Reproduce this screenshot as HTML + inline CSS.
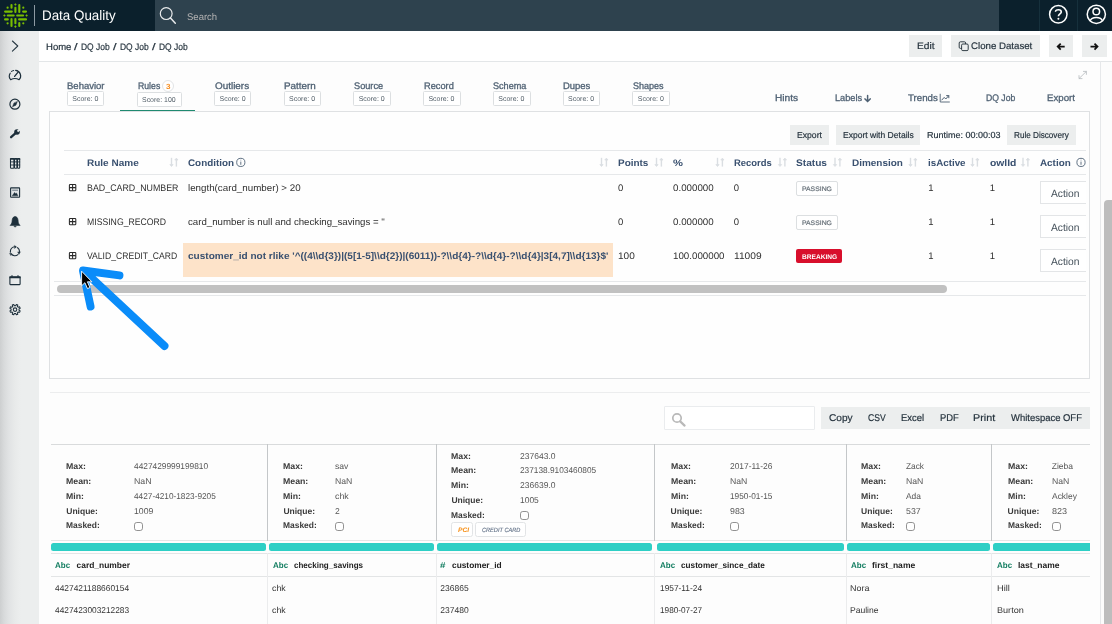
<!DOCTYPE html>
<html><head><meta charset="utf-8">
<style>
*{box-sizing:border-box;margin:0;padding:0}
html,body{width:1112px;height:624px;overflow:hidden;background:#fdfdfd;font-family:"Liberation Sans",sans-serif;color:#333}
div,svg{position:absolute}
.t{white-space:nowrap;transform-origin:0 50%}
#tx{left:0;top:0;width:1112px;height:624px;will-change:transform;text-rendering:geometricPrecision}
.b{background:#eceeee}
.ln{height:1px;background:#e6e8ea}
.sc{border:1px solid #dcdfe1;background:#fff;border-radius:1.5px;height:15px}
.cb{width:9px;height:9px;border:1px solid #929292;border-radius:2.8px;background:#fff;margin:-0.5px 0 0 -0.4px}
.teal{top:542.9px;height:8.1px;background:#2ecfc5;border-radius:2.5px}
.vs{width:1px;background:#c4c7c9;top:444px;height:97px}
.vs2{width:1px;background:#ebeced;top:553px;height:71px}
.act{left:1040px;width:46px;height:23px;border:1px solid #e3e5e7;border-right:none;background:#fff}
.pass{left:796px;width:42px;height:14.5px;border:1px solid #dcdfe1;border-radius:2px;background:#fff}
</style></head><body>
<!-- top bar -->
<div style="left:0;top:0;width:1112px;height:31px;background:#2e424e"></div>
<div style="left:0;top:0;width:155px;height:31px;background:#0b202c"></div>
<div style="left:999px;top:0;width:113px;height:31px;background:#0b202c"></div>
<div style="left:1039px;top:0;width:1px;height:31px;background:#16303c"></div>
<div style="left:1077px;top:0;width:1px;height:31px;background:#16303c"></div>
<div style="left:33.8px;top:5px;width:1.2px;height:21px;background:#8d9aa3"></div>
<!-- logo -->
<svg style="left:0;top:0" width="32" height="31" viewBox="0 0 32 31"><g stroke="#79be00" stroke-width="2.1" stroke-linecap="round" fill="none">
<path d="M11.5 5.1V7.8M15.4 7.8V11.9M19.3 5.1V11.9"/>
<path d="M5.1 11.6H11.8M7.8 15.5H13.7M5.1 19.4H7.8"/>
<path d="M23.1 11.6H26M17.2 15.5H23.1M19.1 19.4H26"/>
<path d="M11.5 19.1V26M15.4 19.1V23.2M19.3 23.1V26"/>
</g><g fill="#79be00"><path d="M15.4 3.2L16.7 4.5L15.4 5.8L14.1 4.5ZM15.4 25.3L16.7 26.6L15.4 27.9L14.1 26.6ZM4.4 14.2L5.7 15.5L4.4 16.8L3.1 15.5ZM26.6 14.2L27.9 15.5L26.6 16.8L25.3 15.5Z"/>
<circle cx="7.6" cy="7.7" r="1.1"/><circle cx="23.3" cy="7.7" r="1.1"/><circle cx="7.6" cy="23.3" r="1.1"/><circle cx="23.3" cy="23.3" r="1.1"/></g></svg>
<!-- search icon -->
<svg style="left:155px;top:0" width="30" height="31" viewBox="155 0 30 31"><circle cx="166.2" cy="13.6" r="5.9" fill="none" stroke="#e9ebec" stroke-width="1.2"/><path d="M170.5 18L175.3 23.2" stroke="#e9ebec" stroke-width="1.5" stroke-linecap="round"/></svg>
<!-- help / user -->
<svg style="left:1045px;top:0" width="67" height="31" viewBox="1045 0 67 31" fill="none" stroke="#fff" stroke-width="1.5">
<circle cx="1058.3" cy="14.3" r="8.7"/>
<path d="M1055.5 11.7C1055.5 9 1061.3 9 1061.3 11.9C1061.3 13.9 1058.4 13.9 1058.4 16.3" stroke-width="1.6"/><circle cx="1058.4" cy="18.8" r="1" fill="#fff" stroke="none"/>
<circle cx="1096.3" cy="14.3" r="9.1"/><circle cx="1096.3" cy="11.5" r="3.3"/>
<path d="M1090.2 20.8C1091.6 16.3 1101 16.3 1102.4 20.8"/></svg>
<!-- sidebar -->
<div style="left:0;top:31px;width:39px;height:593px;background:linear-gradient(90deg,#cdcfd0 0,#d8dadb 4px,#e1e3e4 9px,#e7e9e9 14px,#ebeded 19px,#eceeee 22px,#eceeee 100%)"></div>
<svg style="left:0;top:31px" width="39" height="300" viewBox="0 31 39 300" fill="none" stroke="#1d2f3b" stroke-width="1.2" stroke-linecap="round" stroke-linejoin="round">
<path d="M12.4 41L17.8 46L12.4 51.2" stroke-width="1.05" stroke="#263742"/>
<!-- gauge -->
<path d="M10.7 79.7A5.5 5.5 0 0 1 10.2 73.2M11.6 71.4A5.5 5.5 0 0 1 13.6 70.5M15.6 70.4A5.5 5.5 0 0 1 19.1 79.7Q14.9 77.3 10.7 79.7" stroke-width="1.15"/><path d="M14.6 76.4L18.3 71.9" stroke-width="1.3"/>
<!-- compass -->
<circle cx="14.9" cy="104.2" r="5"/><path d="M17.3 101.7L15.9 105.2L12.5 106.7L13.9 103.2Z" fill="#1d2f3b" stroke-width="0.5"/>
<!-- wrench -->
<path d="M11.1 137.2L15.6 133.2" stroke-width="2.3"/><circle cx="17" cy="132" r="2.8" fill="#1d2f3b" stroke="none"/><path d="M17.5 131.4L20.6 128.8" stroke="#eceeee" stroke-width="1.9" stroke-linecap="butt"/>
<!-- grid -->
<g stroke-width="1.05"><rect x="10.5" y="158.5" width="3.4" height="9.8" rx="0.7"/><rect x="14.5" y="158.5" width="2.4" height="9.8" rx="0.7"/><rect x="17.5" y="158.5" width="2.2" height="9.8" rx="0.7"/><path d="M10.5 161.9H19.7M10.5 165H19.7" stroke-width="0.9"/><path d="M10.5 159H19.7" stroke-width="1.4"/></g>
<!-- image -->
<rect x="10.6" y="187.9" width="9" height="9.4" rx="0.5" stroke-width="1.1" fill="#dfe3e5"/><path d="M12.2 195.8L14.6 192.4L15.7 193.8L16.5 193L17.9 195.8Z" fill="#1d2f3b" stroke-width="0.4"/><path d="M12.6 190.2H17.6" stroke-width="0.9" stroke="#5a6a75"/>
<!-- bell -->
<path d="M10.4 225.2C12.1 223.8 12 221.6 12.2 220C12.5 217.6 13.8 216.6 15.1 216.6C16.4 216.6 17.7 217.6 18 220C18.2 221.6 18.1 223.8 19.8 225.2Z" fill="#1d2f3b" stroke-width="0.7"/><path d="M14 226.3A1.15 1.15 0 0 0 16.2 226.3Z" fill="#1d2f3b" stroke-width="0.5"/>
<!-- refresh -->
<path d="M10.5 252.2A4.5 4.5 0 0 1 15.4 246.8M17.6 247.7A4.5 4.5 0 0 1 19.2 252.6M17.9 254.6A4.5 4.5 0 0 1 11.3 253.9" stroke-width="1.1"/><path d="M14.6 245.4L16.6 246.9L14.6 248.4Z" fill="#1d2f3b" stroke-width="0.3"/><path d="M20.4 252L19 254.4L17.6 252.2Z" fill="#1d2f3b" stroke-width="0.3"/><path d="M9.6 253.2L11.5 253.6L11 255.5Z" fill="#1d2f3b" stroke-width="0.3"/>
<!-- calendar -->
<rect x="9.9" y="277" width="10.2" height="7.6" rx="0.5" stroke-width="1.1"/><path d="M9.4 277.3H20.6" stroke-width="1.9" stroke-linecap="butt"/><path d="M12 275.6V276.6M18 275.6V276.6" stroke-width="1.1"/>
<!-- gear -->
<path d="M19.00 310.26L20.19 310.88L19.59 312.33L18.31 311.92L17.37 312.86L17.78 314.14L16.33 314.74L15.71 313.55L14.39 313.55L13.77 314.74L12.32 314.14L12.73 312.86L11.79 311.92L10.51 312.33L9.91 310.88L11.10 310.26L11.10 308.94L9.91 308.32L10.51 306.87L11.79 307.28L12.73 306.34L12.32 305.06L13.77 304.46L14.39 305.65L15.71 305.65L16.33 304.46L17.78 305.06L17.37 306.34L18.31 307.28L19.59 306.87L20.19 308.32L19.00 308.94Z" stroke-width="1.05" stroke-linejoin="round"/><circle cx="15.05" cy="309.6" r="1.75" stroke-width="1.1"/>
</svg>
<!-- breadcrumb bar -->
<div style="left:39px;top:31px;width:1073px;height:30px;background:#fff"></div>
<div class="ln" style="left:39px;top:61px;width:1073px;background:#e3e6e8"></div>
<div class="b" style="left:909px;top:35px;width:33px;height:22px"></div>
<div class="b" style="left:951px;top:35px;width:89px;height:22px"></div>
<div class="b" style="left:1049px;top:35px;width:24px;height:22px"></div>
<div class="b" style="left:1082px;top:35px;width:25px;height:22px"></div>
<svg style="left:955px;top:38px" width="150" height="16" viewBox="955 38 150 16" fill="none" stroke="#1d2a33">
<rect x="959.2" y="41.8" width="6.4" height="6.6" rx="1.2" stroke-width="0.9"/><rect x="961.6" y="44" width="6.6" height="6.6" rx="1.2" stroke-width="0.9" fill="#eceeee"/>
<path d="M1064.7 46.6H1058M1060.7 43.6L1057.7 46.6L1060.7 49.6" stroke-width="1.75" stroke="#111"/>
<path d="M1090.5 46.6H1097.2M1094.5 43.6L1097.5 46.6L1094.5 49.6" stroke-width="1.75" stroke="#111"/>
</svg>
<!-- right edge / scrollbar -->
<div style="left:1100px;top:61px;width:1px;height:563px;background:#e6e8ea"></div>
<div style="left:1101px;top:62px;width:11px;height:562px;background:#fcfcfc"></div>
<div style="left:1104px;top:200px;width:8px;height:430px;background:#bdbdbd;border-radius:4px 0 0 4px"></div>
<!-- tabs -->
<div class="sc" style="left:67px;top:91px;width:37px"></div>
<div class="sc" style="left:137px;top:92px;width:45px"></div>
<div class="sc" style="left:214px;top:91px;width:37px"></div>
<div class="sc" style="left:284px;top:91px;width:37px"></div>
<div class="sc" style="left:353px;top:91px;width:38px"></div>
<div class="sc" style="left:423px;top:91px;width:38px"></div>
<div class="sc" style="left:493px;top:91px;width:38px"></div>
<div class="sc" style="left:563px;top:91px;width:37px"></div>
<div class="sc" style="left:632px;top:91px;width:38px"></div>
<div style="left:162.4px;top:79.9px;width:12px;height:12px;border:1px solid #e2e4e6;border-radius:6px;background:#fff"></div>
<div style="left:120px;top:110px;width:75px;height:1.5px;background:#1f8a70"></div>
<svg style="left:860px;top:68px" width="240" height="40" viewBox="860 68 240 40" fill="none" stroke="#4f6173" stroke-linecap="round" stroke-linejoin="round">
<path d="M867.6 95.4V101.4M865 98.9L867.6 101.6L870.2 98.9" stroke-width="1.5"/>
<path d="M940.2 94.2V102H949.4" stroke-width="0.9"/><path d="M941.8 100L944.2 97.4L945.8 99L948.6 95.8M946.6 95.6H948.8V97.8" stroke-width="1"/>
<path d="M1079.2 78.4L1086.2 71.6M1079 75.6V78.6H1082M1083.4 71.4H1086.4V74.4" stroke="#b4b9bd" stroke-width="0.8"/>
</svg>
<!-- panel -->
<div style="left:49px;top:111px;width:1041px;height:268px;background:#fefefe;border:1px solid #dfe1e3"></div>
<div class="b" style="left:790px;top:125px;width:39px;height:20px"></div>
<div class="b" style="left:836px;top:125px;width:84px;height:20px"></div>
<div class="b" style="left:1007px;top:125px;width:69px;height:20px"></div>
<div class="ln" style="left:64px;top:150px;width:1022px"></div>
<div class="ln" style="left:64px;top:174px;width:1022px"></div>
<div class="ln" style="left:54px;top:281px;width:1032px"></div>
<div class="ln" style="left:54px;top:295px;width:1032px"></div>
<div style="left:183px;top:243px;width:430px;height:33.5px;background:#fde3c9"></div>
<div style="left:57px;top:285px;width:890px;height:8px;background:#c1c1c1;border-radius:4px"></div>
<div class="pass" style="top:181.2px"></div><div class="pass" style="top:215.2px"></div>
<div style="left:796px;top:249.2px;width:46px;height:13.7px;background:#d80f2c;border-radius:2px"></div>
<div class="act" style="top:180.9px"></div><div class="act" style="top:214.9px"></div><div class="act" style="top:248.9px"></div>
<!-- table icons -->
<svg style="left:60px;top:150px" width="1030" height="120" viewBox="60 150 1030 120" fill="none">
<g stroke="#2a2a2a" stroke-width="1.05"><rect x="69.4" y="184.4" width="6.4" height="6.4" rx="0.8"/><path d="M72.6 184.4V190.8M69.4 187.6H75.8"/></g>
<g stroke="#2a2a2a" stroke-width="1.05" transform="translate(0 34)"><rect x="69.4" y="184.4" width="6.4" height="6.4" rx="0.8"/><path d="M72.6 184.4V190.8M69.4 187.6H75.8"/></g><g stroke="#2a2a2a" stroke-width="1.05" transform="translate(0 68)"><rect x="69.4" y="184.4" width="6.4" height="6.4" rx="0.8"/><path d="M72.6 184.4V190.8M69.4 187.6H75.8"/></g>
<g stroke="#dadee2" stroke-width="1.4" fill="#dadee2" stroke-linejoin="round"><path d="M171.5 157.8V165" /><path d="M169.9 164.6H173.1L171.5 166.5Z" stroke-width="0.8"/><path d="M176.4 166.6V159.6"/><path d="M174.8 160H178L176.4 158.1Z" stroke-width="0.8"/></g>
<g stroke="#dadee2" stroke-width="1.4" fill="#dadee2" stroke-linejoin="round" transform="translate(430 0)"><path d="M171.5 157.8V165" /><path d="M169.9 164.6H173.1L171.5 166.5Z" stroke-width="0.8"/><path d="M176.4 166.6V159.6"/><path d="M174.8 160H178L176.4 158.1Z" stroke-width="0.8"/></g><g stroke="#dadee2" stroke-width="1.4" fill="#dadee2" stroke-linejoin="round" transform="translate(485 0)"><path d="M171.5 157.8V165" /><path d="M169.9 164.6H173.1L171.5 166.5Z" stroke-width="0.8"/><path d="M176.4 166.6V159.6"/><path d="M174.8 160H178L176.4 158.1Z" stroke-width="0.8"/></g><g stroke="#dadee2" stroke-width="1.4" fill="#dadee2" stroke-linejoin="round" transform="translate(546 0)"><path d="M171.5 157.8V165" /><path d="M169.9 164.6H173.1L171.5 166.5Z" stroke-width="0.8"/><path d="M176.4 166.6V159.6"/><path d="M174.8 160H178L176.4 158.1Z" stroke-width="0.8"/></g><g stroke="#dadee2" stroke-width="1.4" fill="#dadee2" stroke-linejoin="round" transform="translate(608.5 0)"><path d="M171.5 157.8V165" /><path d="M169.9 164.6H173.1L171.5 166.5Z" stroke-width="0.8"/><path d="M176.4 166.6V159.6"/><path d="M174.8 160H178L176.4 158.1Z" stroke-width="0.8"/></g><g stroke="#dadee2" stroke-width="1.4" fill="#dadee2" stroke-linejoin="round" transform="translate(663.5 0)"><path d="M171.5 157.8V165" /><path d="M169.9 164.6H173.1L171.5 166.5Z" stroke-width="0.8"/><path d="M176.4 166.6V159.6"/><path d="M174.8 160H178L176.4 158.1Z" stroke-width="0.8"/></g><g stroke="#dadee2" stroke-width="1.4" fill="#dadee2" stroke-linejoin="round" transform="translate(739 0)"><path d="M171.5 157.8V165" /><path d="M169.9 164.6H173.1L171.5 166.5Z" stroke-width="0.8"/><path d="M176.4 166.6V159.6"/><path d="M174.8 160H178L176.4 158.1Z" stroke-width="0.8"/></g><g stroke="#dadee2" stroke-width="1.4" fill="#dadee2" stroke-linejoin="round" transform="translate(801 0)"><path d="M171.5 157.8V165" /><path d="M169.9 164.6H173.1L171.5 166.5Z" stroke-width="0.8"/><path d="M176.4 166.6V159.6"/><path d="M174.8 160H178L176.4 158.1Z" stroke-width="0.8"/></g><g stroke="#dadee2" stroke-width="1.4" fill="#dadee2" stroke-linejoin="round" transform="translate(851.5 0)"><path d="M171.5 157.8V165" /><path d="M169.9 164.6H173.1L171.5 166.5Z" stroke-width="0.8"/><path d="M176.4 166.6V159.6"/><path d="M174.8 160H178L176.4 158.1Z" stroke-width="0.8"/></g>
<g stroke="#3a4f66" stroke-width="0.8"><circle cx="240.8" cy="162.4" r="4.1"/><path d="M240.8 161.6V164.8M240.8 159.8V160.4"/><circle cx="1081" cy="162.4" r="4.1"/><path d="M1081 161.6V164.8M1081 159.8V160.4"/></g>
</svg>
<!-- arrow annotation -->
<svg style="left:60px;top:255px" width="130" height="110" viewBox="60 255 130 110" fill="none">
<path d="M84 271L164.5 346M83 270.5L119.5 275.4M83 271L90.6 306.6" stroke="#0a8cf9" stroke-width="7.9" stroke-linecap="round"/>
<path d="M81.6 271.2V285.8L84.9 282.7L87.5 288.6L89.9 287.5L87.4 281.8H91.9Z" fill="#000" stroke="#fff" stroke-width="0.9" stroke-linejoin="round"/>
</svg>
<!-- lower section -->
<div class="ln" style="left:50px;top:392px;width:1040px;background:#ecedee"></div>
<div style="left:664px;top:406px;width:151px;height:24px;background:#fff;border:1px solid #eaecee;border-radius:1px"></div>
<svg style="left:668px;top:410px" width="22" height="20" viewBox="668 410 22 20" fill="none" stroke="#b9b9b9"><circle cx="677" cy="418" r="4.2" stroke-width="1.7"/><path d="M680.2 421.4L684.6 425.6" stroke-width="2.2" stroke-linecap="round"/></svg>
<div class="b" style="left:821px;top:407px;width:269px;height:22px"></div>
<div class="ln" style="left:51px;top:444px;width:1039px;background:#d9dbdc"></div>
<div class="ln" style="left:51px;top:540.2px;width:1039px;background:#e3e5e6"></div>
<div class="ln" style="left:51px;top:553.2px;width:1039px;background:#e3e5e6"></div>
<div class="ln" style="left:51px;top:576px;width:1039px;background:#e3e5e6"></div>
<div class="vs" style="left:267px"></div><div class="vs" style="left:435.5px"></div><div class="vs" style="left:654px"></div><div class="vs" style="left:845.5px"></div><div class="vs" style="left:991px"></div>
<div class="vs2" style="left:267px"></div><div class="vs2" style="left:435.5px"></div><div class="vs2" style="left:654px"></div><div class="vs2" style="left:845.5px"></div><div class="vs2" style="left:991px"></div>
<div class="teal" style="left:51px;width:214.5px"></div><div class="teal" style="left:269px;width:164.5px"></div><div class="teal" style="left:437px;width:215px"></div><div class="teal" style="left:656.5px;width:187px"></div><div class="teal" style="left:847px;width:142.5px"></div><div class="teal" style="left:993px;width:97px;border-radius:2.5px 0 0 2.5px"></div>
<div class="cb" style="left:134.6px;top:522.5px"></div><div class="cb" style="left:335.4px;top:522.5px"></div><div class="cb" style="left:520.2px;top:511.5px"></div><div class="cb" style="left:730.3px;top:522.5px"></div><div class="cb" style="left:906.1px;top:522.5px"></div><div class="cb" style="left:1052.2px;top:522.5px"></div>
<div style="left:451.4px;top:522.3px;width:22.1px;height:14.4px;border:1px solid #e2e4e6;border-radius:2.5px;background:#fff"></div>
<div style="left:475.3px;top:522.3px;width:50.3px;height:14.4px;border:1px solid #e2e4e6;border-radius:2.5px;background:#fff"></div>
<div id="tx">
<div class="t" style="left:41.93px;top:7.00px;font-size:13.86px;line-height:16px;color:#fff;transform:scaleX(0.966);">Data Quality</div>
<div class="t" style="left:187.32px;top:12.00px;font-size:9.68px;line-height:11px;color:#b4b3b3;transform:scaleX(0.983);">Search</div>
<div class="t" style="left:46.03px;top:42.00px;font-size:9.5px;line-height:11px;color:#1f2d38;-webkit-text-stroke:0.18px #1f2d38;">Home</div>
<div class="t" style="left:74.16px;top:42.00px;font-size:9.5px;line-height:11px;color:#1f2d38;transform:scaleX(1.350);-webkit-text-stroke:0.18px #1f2d38;">/</div>
<div class="t" style="left:81.08px;top:42.00px;font-size:9.5px;line-height:11px;color:#1f2d38;transform:scaleX(0.891);-webkit-text-stroke:0.18px #1f2d38;">DQ Job</div>
<div class="t" style="left:112.66px;top:42.00px;font-size:9.5px;line-height:11px;color:#1f2d38;transform:scaleX(1.350);-webkit-text-stroke:0.18px #1f2d38;">/</div>
<div class="t" style="left:120.08px;top:42.00px;font-size:9.5px;line-height:11px;color:#1f2d38;transform:scaleX(0.891);-webkit-text-stroke:0.18px #1f2d38;">DQ Job</div>
<div class="t" style="left:151.66px;top:42.00px;font-size:9.5px;line-height:11px;color:#1f2d38;transform:scaleX(1.350);-webkit-text-stroke:0.18px #1f2d38;">/</div>
<div class="t" style="left:159.08px;top:42.00px;font-size:9.5px;line-height:11px;color:#1f2d38;transform:scaleX(0.891);-webkit-text-stroke:0.18px #1f2d38;">DQ Job</div>
<div class="t" style="left:916.99px;top:41.00px;font-size:9.5px;line-height:11px;color:#1f2d38;transform:scaleX(1.076);-webkit-text-stroke:0.18px #1f2d38;">Edit</div>
<div class="t" style="left:971.02px;top:41.00px;font-size:9.5px;line-height:11px;color:#1f2d38;transform:scaleX(1.018);-webkit-text-stroke:0.18px #1f2d38;">Clone Dataset</div>
<div class="t" style="left:67.02px;top:81.00px;font-size:9.5px;line-height:11px;color:#4f6173;-webkit-text-stroke:0.3px #4f6173;">Behavior</div>
<div class="t" style="left:137.67px;top:81.00px;font-size:9.5px;line-height:11px;color:#4f6173;transform:scaleX(0.915);-webkit-text-stroke:0.3px #4f6173;">Rules</div>
<div class="t" style="left:214.61px;top:81.00px;font-size:9.5px;line-height:11px;color:#4f6173;transform:scaleX(1.041);-webkit-text-stroke:0.3px #4f6173;">Outliers</div>
<div class="t" style="left:284.11px;top:81.00px;font-size:9.5px;line-height:11px;color:#4f6173;transform:scaleX(1.037);-webkit-text-stroke:0.3px #4f6173;">Pattern</div>
<div class="t" style="left:353.74px;top:81.00px;font-size:9.5px;line-height:11px;color:#4f6173;transform:scaleX(0.967);-webkit-text-stroke:0.3px #4f6173;">Source</div>
<div class="t" style="left:423.54px;top:81.00px;font-size:9.5px;line-height:11px;color:#4f6173;transform:scaleX(0.973);-webkit-text-stroke:0.3px #4f6173;">Record</div>
<div class="t" style="left:493.34px;top:81.00px;font-size:9.5px;line-height:11px;color:#4f6173;transform:scaleX(0.958);-webkit-text-stroke:0.3px #4f6173;">Schema</div>
<div class="t" style="left:563.13px;top:81.00px;font-size:9.5px;line-height:11px;color:#4f6173;transform:scaleX(0.995);-webkit-text-stroke:0.3px #4f6173;">Dupes</div>
<div class="t" style="left:632.85px;top:81.00px;font-size:9.5px;line-height:11px;color:#4f6173;transform:scaleX(0.949);-webkit-text-stroke:0.3px #4f6173;">Shapes</div>
<div class="t" style="left:775.49px;top:93.00px;font-size:9.5px;line-height:11px;color:#4f6173;transform:scaleX(1.067);-webkit-text-stroke:0.3px #4f6173;">Hints</div>
<div class="t" style="left:834.54px;top:93.00px;font-size:9.5px;line-height:11px;color:#4f6173;transform:scaleX(0.968);-webkit-text-stroke:0.3px #4f6173;">Labels</div>
<div class="t" style="left:907.72px;top:93.00px;font-size:9.5px;line-height:11px;color:#4f6173;transform:scaleX(1.019);-webkit-text-stroke:0.3px #4f6173;">Trends</div>
<div class="t" style="left:985.77px;top:93.00px;font-size:9.5px;line-height:11px;color:#4f6173;transform:scaleX(0.907);-webkit-text-stroke:0.3px #4f6173;">DQ Job</div>
<div class="t" style="left:1047.22px;top:93.00px;font-size:9.5px;line-height:11px;color:#4f6173;transform:scaleX(1.018);-webkit-text-stroke:0.3px #4f6173;">Export</div>
<div class="t" style="left:72.25px;top:96.00px;font-size:7.0px;line-height:7px;color:#4f5b65;">Score: 0</div>
<div class="t" style="left:219.55px;top:96.00px;font-size:7.0px;line-height:7px;color:#4f5b65;">Score: 0</div>
<div class="t" style="left:289.05px;top:96.00px;font-size:7.0px;line-height:7px;color:#4f5b65;">Score: 0</div>
<div class="t" style="left:358.65px;top:96.00px;font-size:7.0px;line-height:7px;color:#4f5b65;">Score: 0</div>
<div class="t" style="left:428.45px;top:96.00px;font-size:7.0px;line-height:7px;color:#4f5b65;">Score: 0</div>
<div class="t" style="left:498.25px;top:96.00px;font-size:7.0px;line-height:7px;color:#4f5b65;">Score: 0</div>
<div class="t" style="left:568.05px;top:96.00px;font-size:7.0px;line-height:7px;color:#4f5b65;">Score: 0</div>
<div class="t" style="left:637.75px;top:96.00px;font-size:7.0px;line-height:7px;color:#4f5b65;">Score: 0</div>
<div class="t" style="left:142.45px;top:97.00px;font-size:7.0px;line-height:7px;color:#4f5b65;transform:scaleX(0.993);">Score: 100</div>
<div class="t" style="left:166.30px;top:82.00px;font-size:7.5px;line-height:9px;color:#f68d1f;font-weight:bold;transform:scaleX(1.070);">3</div>
<div class="t" style="left:797.37px;top:130.00px;font-size:8.77px;line-height:10px;color:#1f2d38;transform:scaleX(0.984);-webkit-text-stroke:0.18px #1f2d38;">Export</div>
<div class="t" style="left:842.87px;top:130.00px;font-size:8.77px;line-height:10px;color:#1f2d38;transform:scaleX(0.974);-webkit-text-stroke:0.18px #1f2d38;">Export with Details</div>
<div class="t" style="left:927.15px;top:130.00px;font-size:8.77px;line-height:10px;color:#1f2d38;transform:scaleX(1.026);-webkit-text-stroke:0.18px #1f2d38;">Runtime: 00:00:03</div>
<div class="t" style="left:1014.09px;top:130.00px;font-size:8.77px;line-height:10px;color:#1f2d38;transform:scaleX(0.929);-webkit-text-stroke:0.18px #1f2d38;">Rule Discovery</div>
<div class="t" style="left:86.85px;top:158.00px;font-size:9.5px;line-height:11px;color:#3a5170;font-weight:bold;transform:scaleX(1.053);">Rule Name</div>
<div class="t" style="left:188.05px;top:158.00px;font-size:9.5px;line-height:11px;color:#3a5170;font-weight:bold;transform:scaleX(1.037);">Condition</div>
<div class="t" style="left:618.15px;top:158.00px;font-size:9.5px;line-height:11px;color:#3a5170;font-weight:bold;transform:scaleX(1.047);">Points</div>
<div class="t" style="left:672.52px;top:158.00px;font-size:9.5px;line-height:11px;color:#3a5170;font-weight:bold;transform:scaleX(1.176);">%</div>
<div class="t" style="left:733.76px;top:158.00px;font-size:9.5px;line-height:11px;color:#3a5170;font-weight:bold;transform:scaleX(0.993);">Records</div>
<div class="t" style="left:795.95px;top:158.00px;font-size:9.5px;line-height:11px;color:#3a5170;font-weight:bold;transform:scaleX(1.068);">Status</div>
<div class="t" style="left:852.35px;top:158.00px;font-size:9.5px;line-height:11px;color:#3a5170;font-weight:bold;transform:scaleX(1.048);">Dimension</div>
<div class="t" style="left:927.56px;top:158.00px;font-size:9.5px;line-height:11px;color:#3a5170;font-weight:bold;transform:scaleX(1.031);">isActive</div>
<div class="t" style="left:989.54px;top:158.00px;font-size:9.5px;line-height:11px;color:#3a5170;font-weight:bold;transform:scaleX(1.089);">owlId</div>
<div class="t" style="left:1040.25px;top:158.00px;font-size:9.5px;line-height:11px;color:#3a5170;font-weight:bold;transform:scaleX(1.038);">Action</div>
<div class="t" style="left:86.86px;top:183.00px;font-size:9.5px;line-height:11px;color:#303030;transform:scaleX(0.932);">BAD_CARD_NUMBER</div>
<div class="t" style="left:86.87px;top:217.00px;font-size:9.5px;line-height:11px;color:#303030;transform:scaleX(0.913);">MISSING_RECORD</div>
<div class="t" style="left:86.87px;top:251.00px;font-size:9.5px;line-height:11px;color:#303030;transform:scaleX(0.905);">VALID_CREDIT_CARD</div>
<div class="t" style="left:188.01px;top:183.00px;font-size:9.5px;line-height:11px;color:#303030;transform:scaleX(1.028);">length(card_number) &gt; 20</div>
<div class="t" style="left:188.02px;top:217.00px;font-size:9.5px;line-height:11px;color:#303030;transform:scaleX(1.018);">card_number is null and checking_savings = ''</div>
<div class="t" style="left:188.25px;top:251.00px;font-size:9.5px;line-height:11px;color:#3a5170;font-weight:bold;transform:scaleX(1.056);">customer_id not rlike '^((4\\d{3})|(5[1-5]\\d{2})|(6011))-?\\d{4}-?\\d{4}-?\\d{4}|3[4,7]\\d{13}$'</div>
<div class="t" style="left:618.12px;top:183.00px;font-size:9.5px;line-height:11px;color:#303030;">0</div>
<div class="t" style="left:618.12px;top:217.00px;font-size:9.5px;line-height:11px;color:#303030;">0</div>
<div class="t" style="left:618.10px;top:251.00px;font-size:9.5px;line-height:11px;color:#303030;transform:scaleX(1.060);">100</div>
<div class="t" style="left:672.51px;top:183.00px;font-size:9.5px;line-height:11px;color:#303030;transform:scaleX(1.026);">0.000000</div>
<div class="t" style="left:672.51px;top:217.00px;font-size:9.5px;line-height:11px;color:#303030;transform:scaleX(1.026);">0.000000</div>
<div class="t" style="left:672.51px;top:251.00px;font-size:9.5px;line-height:11px;color:#303030;transform:scaleX(1.027);">100.000000</div>
<div class="t" style="left:733.73px;top:183.00px;font-size:9.5px;line-height:11px;color:#303030;">0</div>
<div class="t" style="left:733.73px;top:217.00px;font-size:9.5px;line-height:11px;color:#303030;">0</div>
<div class="t" style="left:733.69px;top:251.00px;font-size:9.5px;line-height:11px;color:#303030;transform:scaleX(1.074);">11009</div>
<div class="t" style="left:928.32px;top:183.00px;font-size:9.5px;line-height:11px;color:#303030;">1</div>
<div class="t" style="left:989.82px;top:183.00px;font-size:9.5px;line-height:11px;color:#303030;">1</div>
<div class="t" style="left:1051.49px;top:189.00px;font-size:10.46px;line-height:11px;color:#46525c;transform:scaleX(0.982);">Action</div>
<div class="t" style="left:928.32px;top:217.00px;font-size:9.5px;line-height:11px;color:#303030;">1</div>
<div class="t" style="left:989.82px;top:217.00px;font-size:9.5px;line-height:11px;color:#303030;">1</div>
<div class="t" style="left:1051.49px;top:223.00px;font-size:10.46px;line-height:11px;color:#46525c;transform:scaleX(0.982);">Action</div>
<div class="t" style="left:928.32px;top:251.00px;font-size:9.5px;line-height:11px;color:#303030;">1</div>
<div class="t" style="left:989.82px;top:251.00px;font-size:9.5px;line-height:11px;color:#303030;">1</div>
<div class="t" style="left:1051.49px;top:257.00px;font-size:10.46px;line-height:11px;color:#46525c;transform:scaleX(0.982);">Action</div>
<div class="t" style="left:802.16px;top:186.00px;font-size:6.5px;line-height:7px;color:#68727a;transform:scaleX(1.053);-webkit-text-stroke:0.2px #68727a;">PASSING</div>
<div class="t" style="left:802.16px;top:220.00px;font-size:6.5px;line-height:7px;color:#68727a;transform:scaleX(1.053);-webkit-text-stroke:0.2px #68727a;">PASSING</div>
<div class="t" style="left:801.73px;top:254.00px;font-size:6.69px;line-height:7px;color:#fff;font-weight:bold;transform:scaleX(0.987);">BREAKING</div>
<div class="t" style="left:828.89px;top:413.00px;font-size:9.81px;line-height:11px;color:#1f2d38;transform:scaleX(1.032);-webkit-text-stroke:0.18px #1f2d38;">Copy</div>
<div class="t" style="left:868.17px;top:413.00px;font-size:9.81px;line-height:11px;color:#1f2d38;transform:scaleX(0.875);-webkit-text-stroke:0.18px #1f2d38;">CSV</div>
<div class="t" style="left:900.83px;top:413.00px;font-size:9.81px;line-height:11px;color:#1f2d38;transform:scaleX(0.965);-webkit-text-stroke:0.18px #1f2d38;">Excel</div>
<div class="t" style="left:939.73px;top:413.00px;font-size:9.81px;line-height:11px;color:#1f2d38;transform:scaleX(0.960);-webkit-text-stroke:0.18px #1f2d38;">PDF</div>
<div class="t" style="left:973.46px;top:413.00px;font-size:9.81px;line-height:11px;color:#1f2d38;transform:scaleX(1.101);-webkit-text-stroke:0.18px #1f2d38;">Print</div>
<div class="t" style="left:1011.33px;top:413.00px;font-size:9.81px;line-height:11px;color:#1f2d38;transform:scaleX(0.965);-webkit-text-stroke:0.18px #1f2d38;">Whitespace OFF</div>
<div class="t" style="left:66.28px;top:461.00px;font-size:8.5px;line-height:10px;color:#3a3a3a;font-weight:bold;transform:scaleX(1.030);">Max:</div>
<div class="t" style="left:66.28px;top:476.00px;font-size:8.5px;line-height:10px;color:#3a3a3a;font-weight:bold;transform:scaleX(1.028);">Mean:</div>
<div class="t" style="left:66.28px;top:491.00px;font-size:8.5px;line-height:10px;color:#3a3a3a;font-weight:bold;transform:scaleX(1.021);">Min:</div>
<div class="t" style="left:66.29px;top:506.00px;font-size:8.5px;line-height:10px;color:#3a3a3a;font-weight:bold;">Unique:</div>
<div class="t" style="left:66.29px;top:520.00px;font-size:8.5px;line-height:10px;color:#3a3a3a;font-weight:bold;transform:scaleX(0.991);">Masked:</div>
<div class="t" style="left:134.18px;top:461.00px;font-size:8.5px;line-height:10px;color:#555;transform:scaleX(0.980);">4427429999199810</div>
<div class="t" style="left:134.16px;top:476.00px;font-size:8.5px;line-height:10px;color:#555;transform:scaleX(1.032);">NaN</div>
<div class="t" style="left:134.19px;top:491.00px;font-size:8.5px;line-height:10px;color:#555;transform:scaleX(0.972);">4427-4210-1823-9205</div>
<div class="t" style="left:134.17px;top:506.00px;font-size:8.5px;line-height:10px;color:#555;transform:scaleX(1.022);">1009</div>
<div class="t" style="left:283.38px;top:461.00px;font-size:8.5px;line-height:10px;color:#3a3a3a;font-weight:bold;transform:scaleX(1.030);">Max:</div>
<div class="t" style="left:283.38px;top:476.00px;font-size:8.5px;line-height:10px;color:#3a3a3a;font-weight:bold;transform:scaleX(1.028);">Mean:</div>
<div class="t" style="left:283.38px;top:491.00px;font-size:8.5px;line-height:10px;color:#3a3a3a;font-weight:bold;transform:scaleX(1.021);">Min:</div>
<div class="t" style="left:283.39px;top:506.00px;font-size:8.5px;line-height:10px;color:#3a3a3a;font-weight:bold;">Unique:</div>
<div class="t" style="left:283.39px;top:520.00px;font-size:8.5px;line-height:10px;color:#3a3a3a;font-weight:bold;transform:scaleX(0.991);">Masked:</div>
<div class="t" style="left:334.97px;top:461.00px;font-size:8.5px;line-height:10px;color:#555;transform:scaleX(1.015);">sav</div>
<div class="t" style="left:334.97px;top:476.00px;font-size:8.5px;line-height:10px;color:#555;transform:scaleX(1.019);">NaN</div>
<div class="t" style="left:334.96px;top:491.00px;font-size:8.5px;line-height:10px;color:#555;transform:scaleX(1.040);">chk</div>
<div class="t" style="left:334.97px;top:506.00px;font-size:8.5px;line-height:10px;color:#555;">2</div>
<div class="t" style="left:451.38px;top:451.00px;font-size:8.5px;line-height:10px;color:#3a3a3a;font-weight:bold;transform:scaleX(1.030);">Max:</div>
<div class="t" style="left:451.38px;top:465.00px;font-size:8.5px;line-height:10px;color:#3a3a3a;font-weight:bold;transform:scaleX(1.028);">Mean:</div>
<div class="t" style="left:451.38px;top:480.00px;font-size:8.5px;line-height:10px;color:#3a3a3a;font-weight:bold;transform:scaleX(1.021);">Min:</div>
<div class="t" style="left:451.39px;top:495.00px;font-size:8.5px;line-height:10px;color:#3a3a3a;font-weight:bold;">Unique:</div>
<div class="t" style="left:451.39px;top:510.00px;font-size:8.5px;line-height:10px;color:#3a3a3a;font-weight:bold;transform:scaleX(0.991);">Masked:</div>
<div class="t" style="left:520.08px;top:451.00px;font-size:8.5px;line-height:10px;color:#555;">237643.0</div>
<div class="t" style="left:520.09px;top:465.00px;font-size:8.5px;line-height:10px;color:#555;transform:scaleX(0.976);">237138.9103460805</div>
<div class="t" style="left:520.08px;top:480.00px;font-size:8.5px;line-height:10px;color:#555;">236639.0</div>
<div class="t" style="left:520.08px;top:495.00px;font-size:8.5px;line-height:10px;color:#555;transform:scaleX(0.994);">1005</div>
<div class="t" style="left:670.58px;top:461.00px;font-size:8.5px;line-height:10px;color:#3a3a3a;font-weight:bold;transform:scaleX(1.030);">Max:</div>
<div class="t" style="left:670.58px;top:476.00px;font-size:8.5px;line-height:10px;color:#3a3a3a;font-weight:bold;transform:scaleX(1.028);">Mean:</div>
<div class="t" style="left:670.58px;top:491.00px;font-size:8.5px;line-height:10px;color:#3a3a3a;font-weight:bold;transform:scaleX(1.021);">Min:</div>
<div class="t" style="left:670.59px;top:506.00px;font-size:8.5px;line-height:10px;color:#3a3a3a;font-weight:bold;">Unique:</div>
<div class="t" style="left:670.59px;top:520.00px;font-size:8.5px;line-height:10px;color:#3a3a3a;font-weight:bold;transform:scaleX(0.991);">Masked:</div>
<div class="t" style="left:729.88px;top:461.00px;font-size:8.5px;line-height:10px;color:#555;transform:scaleX(0.989);">2017-11-26</div>
<div class="t" style="left:729.87px;top:476.00px;font-size:8.5px;line-height:10px;color:#555;transform:scaleX(1.019);">NaN</div>
<div class="t" style="left:729.89px;top:491.00px;font-size:8.5px;line-height:10px;color:#555;transform:scaleX(0.975);">1950-01-15</div>
<div class="t" style="left:729.86px;top:506.00px;font-size:8.5px;line-height:10px;color:#555;transform:scaleX(1.033);">983</div>
<div class="t" style="left:861.08px;top:461.00px;font-size:8.5px;line-height:10px;color:#3a3a3a;font-weight:bold;transform:scaleX(1.030);">Max:</div>
<div class="t" style="left:861.08px;top:476.00px;font-size:8.5px;line-height:10px;color:#3a3a3a;font-weight:bold;transform:scaleX(1.028);">Mean:</div>
<div class="t" style="left:861.08px;top:491.00px;font-size:8.5px;line-height:10px;color:#3a3a3a;font-weight:bold;transform:scaleX(1.021);">Min:</div>
<div class="t" style="left:861.09px;top:506.00px;font-size:8.5px;line-height:10px;color:#3a3a3a;font-weight:bold;">Unique:</div>
<div class="t" style="left:861.09px;top:520.00px;font-size:8.5px;line-height:10px;color:#3a3a3a;font-weight:bold;transform:scaleX(0.991);">Masked:</div>
<div class="t" style="left:905.69px;top:461.00px;font-size:8.5px;line-height:10px;color:#555;transform:scaleX(0.971);">Zack</div>
<div class="t" style="left:905.67px;top:476.00px;font-size:8.5px;line-height:10px;color:#555;transform:scaleX(1.019);">NaN</div>
<div class="t" style="left:905.68px;top:491.00px;font-size:8.5px;line-height:10px;color:#555;transform:scaleX(0.985);">Ada</div>
<div class="t" style="left:905.66px;top:506.00px;font-size:8.5px;line-height:10px;color:#555;transform:scaleX(1.033);">537</div>
<div class="t" style="left:1007.58px;top:461.00px;font-size:8.5px;line-height:10px;color:#3a3a3a;font-weight:bold;transform:scaleX(1.030);">Max:</div>
<div class="t" style="left:1007.58px;top:476.00px;font-size:8.5px;line-height:10px;color:#3a3a3a;font-weight:bold;transform:scaleX(1.028);">Mean:</div>
<div class="t" style="left:1007.58px;top:491.00px;font-size:8.5px;line-height:10px;color:#3a3a3a;font-weight:bold;transform:scaleX(1.021);">Min:</div>
<div class="t" style="left:1007.59px;top:506.00px;font-size:8.5px;line-height:10px;color:#3a3a3a;font-weight:bold;">Unique:</div>
<div class="t" style="left:1007.59px;top:520.00px;font-size:8.5px;line-height:10px;color:#3a3a3a;font-weight:bold;transform:scaleX(0.991);">Masked:</div>
<div class="t" style="left:1051.78px;top:461.00px;font-size:8.5px;line-height:10px;color:#555;">Zieba</div>
<div class="t" style="left:1051.77px;top:476.00px;font-size:8.5px;line-height:10px;color:#555;transform:scaleX(1.019);">NaN</div>
<div class="t" style="left:1051.78px;top:491.00px;font-size:8.5px;line-height:10px;color:#555;transform:scaleX(0.995);">Ackley</div>
<div class="t" style="left:1051.75px;top:506.00px;font-size:8.5px;line-height:10px;color:#555;transform:scaleX(1.063);">823</div>
<div class="t" style="left:457.53px;top:527.00px;font-size:6.5px;line-height:7px;color:#f7931e;font-weight:bold;font-style:italic;transform:scaleX(1.033);">PCI</div>
<div class="t" style="left:482.02px;top:527.00px;font-size:6.2px;line-height:7px;color:#66758a;font-style:italic;transform:scaleX(0.907);-webkit-text-stroke:0.15px #66758a;">CREDIT CARD</div>
<div class="t" style="left:55.40px;top:560.00px;font-size:8.4px;line-height:10px;color:#127d60;font-weight:bold;transform:scaleX(0.958);">Abc</div>
<div class="t" style="left:76.59px;top:560.00px;font-size:8.44px;line-height:10px;color:#222;font-weight:bold;">card_number</div>
<div class="t" style="left:272.50px;top:560.00px;font-size:8.4px;line-height:10px;color:#127d60;font-weight:bold;transform:scaleX(0.958);">Abc</div>
<div class="t" style="left:294.00px;top:560.00px;font-size:8.44px;line-height:10px;color:#222;font-weight:bold;transform:scaleX(0.952);">checking_savings</div>
<div class="t" style="left:452.29px;top:560.00px;font-size:8.44px;line-height:10px;color:#222;font-weight:bold;transform:scaleX(0.990);">customer_id</div>
<div class="t" style="left:660.00px;top:560.00px;font-size:8.4px;line-height:10px;color:#127d60;font-weight:bold;transform:scaleX(0.958);">Abc</div>
<div class="t" style="left:681.29px;top:560.00px;font-size:8.44px;line-height:10px;color:#222;font-weight:bold;transform:scaleX(0.974);">customer_since_date</div>
<div class="t" style="left:850.50px;top:560.00px;font-size:8.4px;line-height:10px;color:#127d60;font-weight:bold;transform:scaleX(0.958);">Abc</div>
<div class="t" style="left:871.79px;top:560.00px;font-size:8.44px;line-height:10px;color:#222;font-weight:bold;transform:scaleX(1.015);">first_name</div>
<div class="t" style="left:996.90px;top:560.00px;font-size:8.4px;line-height:10px;color:#127d60;font-weight:bold;transform:scaleX(0.958);">Abc</div>
<div class="t" style="left:1018.19px;top:560.00px;font-size:8.44px;line-height:10px;color:#222;font-weight:bold;transform:scaleX(1.005);">last_name</div>
<div class="t" style="left:440.45px;top:560.00px;font-size:8.4px;line-height:10px;color:#127d60;font-weight:bold;transform:scaleX(1.174);">#</div>
<div class="t" style="left:55.18px;top:583.00px;font-size:8.5px;line-height:10px;color:#333;transform:scaleX(0.988);">4427421188660154</div>
<div class="t" style="left:272.26px;top:583.00px;font-size:8.5px;line-height:10px;color:#333;transform:scaleX(1.032);">chk</div>
<div class="t" style="left:440.27px;top:583.00px;font-size:8.5px;line-height:10px;color:#333;">236865</div>
<div class="t" style="left:659.78px;top:583.00px;font-size:8.5px;line-height:10px;color:#333;transform:scaleX(0.982);">1957-11-24</div>
<div class="t" style="left:850.25px;top:583.00px;font-size:8.5px;line-height:10px;color:#333;transform:scaleX(1.051);">Nora</div>
<div class="t" style="left:996.64px;top:583.00px;font-size:8.5px;line-height:10px;color:#333;transform:scaleX(1.093);">Hill</div>
<div class="t" style="left:55.18px;top:605.00px;font-size:8.5px;line-height:10px;color:#333;transform:scaleX(0.980);">4427423003212283</div>
<div class="t" style="left:272.26px;top:605.00px;font-size:8.5px;line-height:10px;color:#333;transform:scaleX(1.032);">chk</div>
<div class="t" style="left:440.27px;top:605.00px;font-size:8.5px;line-height:10px;color:#333;">237480</div>
<div class="t" style="left:659.79px;top:605.00px;font-size:8.5px;line-height:10px;color:#333;transform:scaleX(0.968);">1980-07-27</div>
<div class="t" style="left:850.27px;top:605.00px;font-size:8.5px;line-height:10px;color:#333;transform:scaleX(1.006);">Pauline</div>
<div class="t" style="left:996.65px;top:605.00px;font-size:8.5px;line-height:10px;color:#333;transform:scaleX(1.070);">Burton</div>
</div>
</body></html>
